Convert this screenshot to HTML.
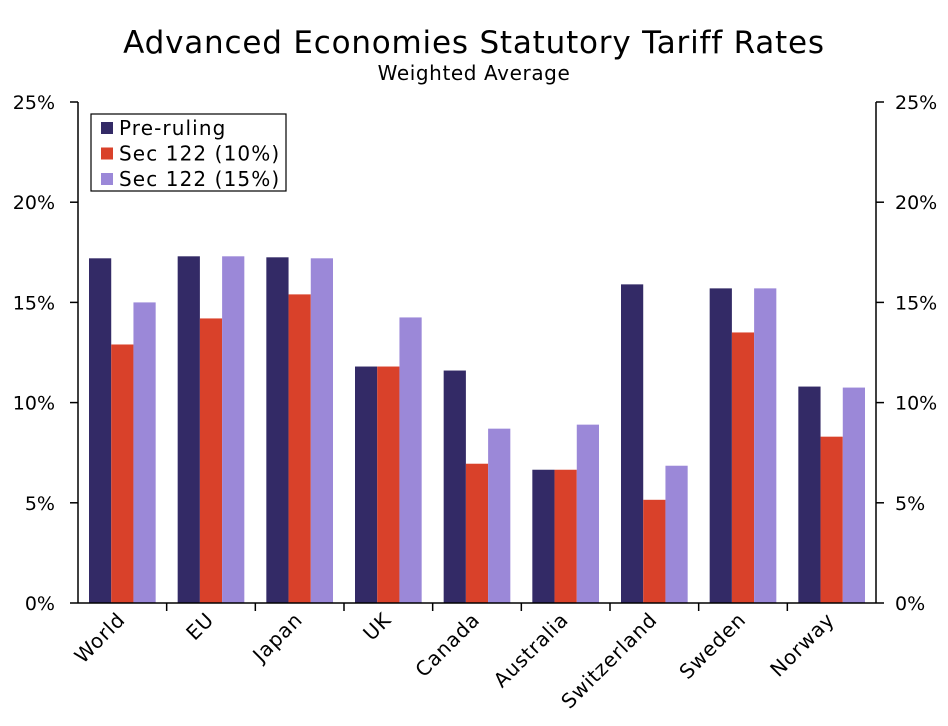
<!DOCTYPE html>
<html><head><meta charset="utf-8">
<style>
body{margin:0;background:#fff;}
svg{display:block;font-family:"DejaVu Sans","Liberation Sans",sans-serif;}
</style></head>
<body>
<svg id="chart" width="948" height="726" viewBox="0 0 948 726" xmlns="http://www.w3.org/2000/svg">
<text x="474" y="53" text-anchor="middle" font-size="31" letter-spacing="0.8">Advanced Economies Statutory Tariff Rates</text>
<text x="474" y="80" text-anchor="middle" font-size="20" letter-spacing="0.6">Weighted Average</text>
<g id="plot"></g>
</svg>
<script>
const categories=["World","EU","Japan","UK","Canada","Australia","Switzerland","Sweden","Norway"];
const preRuling=[17.2,17.3,17.25,11.8,11.6,6.65,15.9,15.7,10.8];
const sec10=[12.9,14.2,15.4,11.8,6.95,6.65,5.15,13.5,8.3];
const sec15=[15.0,17.3,17.2,14.25,8.7,8.9,6.85,15.7,10.75];
const seriesNames=["Pre-ruling","Sec 122 (10%)","Sec 122 (15%)"];
const yTicks=[0,5,10,15,20,25];

const NS="http://www.w3.org/2000/svg";
const g=document.getElementById('plot');
const L=78,R=876,T=102,B=603,YMAX=25;
const colors=["#332a66","#d9412a","#9b88d8"];
const series=[preRuling,sec10,sec15];
const y=v=>B-(v/YMAX)*(B-T);
const bw=(R-L)/categories.length;
const x=i=>L+i*bw;
function mk(tag,attrs,parent){const e=document.createElementNS(NS,tag);for(const k in attrs)e.setAttribute(k,attrs[k]);(parent||g).appendChild(e);return e;}

series.forEach((s,si)=>{
  s.forEach((v,i)=>{
    const barW=(bw-22)/3;
    const r=mk('rect',{x:x(i)+11+si*barW,y:y(v),width:barW,height:B-y(v),fill:colors[si]});
    
    
  });
});
const axL=mk('line',{x1:L,y1:T,x2:L,y2:B,stroke:'#000','stroke-width':1.5});

const axR=mk('line',{x1:R,y1:T,x2:R,y2:B,stroke:'#000','stroke-width':1.5});

const axX=mk('line',{x1:L,y1:B,x2:R,y2:B,stroke:'#000','stroke-width':1.5});

yTicks.forEach(t=>{
  mk('line',{x1:L-8,y1:y(t),x2:L,y2:y(t),stroke:'#000','stroke-width':1.5});
  mk('line',{x1:R,y1:y(t),x2:R+8,y2:y(t),stroke:'#000','stroke-width':1.5});
  const a=mk('text',{x:55,y:y(t)+7,'text-anchor':'end','font-size':19});a.textContent=t+'%';
  
  const b=mk('text',{x:895,y:y(t)+7,'font-size':19});b.textContent=t+'%';
  
});
for(let i=1;i<categories.length;i++){mk('line',{x1:x(i),y1:B,x2:x(i),y2:B+8,stroke:'#000','stroke-width':1.5});}
categories.forEach((c,i)=>{
  const cx=x(i)+bw/2+4, cy=B+18;
  const t=mk('text',{x:cx,y:cy,'text-anchor':'end','font-size':20,'letter-spacing':0.8,transform:`rotate(-45 ${cx} ${cy})`});
  t.textContent=c;
  
  
});
const lg=mk('g',{});

mk('rect',{x:91,y:114,width:195,height:77,fill:'#fff',stroke:'#000','stroke-width':1.2},lg);
seriesNames.forEach((n,i)=>{
  const cy=128+i*25.5;
  const e=mk('g',{},lg);
  
  mk('rect',{x:101,y:cy-6,width:12,height:12,fill:colors[i]},e);
  const t=mk('text',{x:119,y:cy+7,'font-size':20,'letter-spacing':1.1},e);t.textContent=n;
});
</script>
</body></html>
